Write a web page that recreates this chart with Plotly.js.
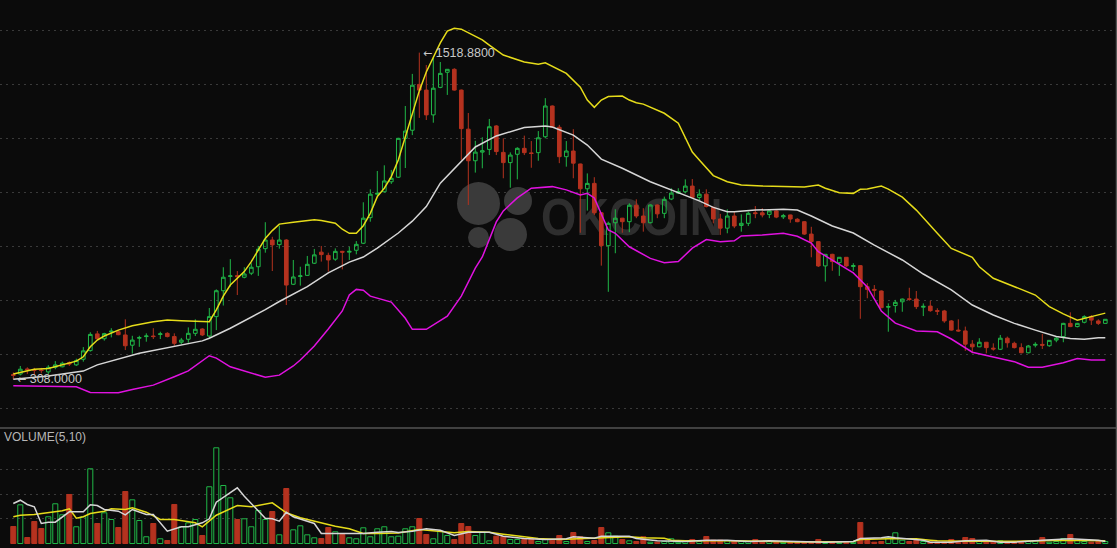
<!DOCTYPE html>
<html>
<head>
<meta charset="utf-8">
<script src="https://cdn.plot.ly/plotly-3.0.1.min.js"></script>
<style>
html,body{margin:0;padding:0;background:#0b0b0b;overflow:hidden;}
#wrap{position:relative;width:1117px;height:548px;}
#wm{position:absolute;left:0;top:0;width:1117px;height:548px;z-index:0;}
#chart{position:absolute;left:0;top:0;width:1117px;height:548px;z-index:1;}
.dot{position:absolute;border-radius:50%;background:#3a3a3a;}
#wmtext{position:absolute;left:541px;top:192px;font-family:"Liberation Sans",Arial,sans-serif;font-weight:bold;font-size:51px;line-height:51px;color:#2e2e2e;transform:scaleX(0.89);transform-origin:left top;white-space:nowrap;}
</style>
</head>
<body>
<div id="wrap">
  <div id="wm">
    <div class="dot" style="left:457px;top:182px;width:43px;height:43px;"></div>
    <div class="dot" style="left:504px;top:187px;width:28px;height:28px;"></div>
    <div class="dot" style="left:468px;top:227px;width:21px;height:21px;"></div>
    <div class="dot" style="left:494px;top:218px;width:33px;height:33px;"></div>
    <div id="wmtext">OKCOIN</div>
  </div>
  <div id="chart"></div>
</div>
<script>
// ---- candle data (index = trading period) ----
const openP = [325,327,346,343,342,335,352,354,369,361,
382,414,476,458,483,484,472,434,460,466,
468,474,478,466,445,456,478,494,468,540,
636,689,692,686,701,725,792,824,807,824,
660,689,693,738,779,767,753,782,779,786,
812,907,994,1003,1040,1057,1201,1231,1401,1380,
1288,1390,1446,1457,1380,1235,1118,1150,1160,1247,
1149,1111,1142,1164,1147,1148,1207,1321,1242,1133,
1154,1106,1014,1034,925,803,888,905,892,953,
913,888,954,923,976,998,1003,1024,982,994,
945,902,868,913,878,886,925,925,919,932,
910,917,901,892,846,818,728,771,740,760,
726,729,651,641,635,575,581,595,606,605,
575,579,562,561,524,490,487,438,428,445,
423,419,460,441,425,406,434,437,432,453,
466,515,503,519,540,524,515];
const highP = [333,357,352,350,350,360,375,373,374,384,
427,482,487,480,497,490,530,469,469,478,
497,484,482,478,461,500,530,497,572,641,
723,753,709,723,738,802,890,836,877,827,
750,725,765,791,802,777,793,784,799,820,
964,1012,1080,1101,1084,1203,1321,1440,1518.88,1473,
1500,1484,1458,1461,1382,1295,1192,1205,1273,1250,
1201,1149,1168,1211,1191,1228,1350,1323,1251,1191,
1235,1107,1071,1057,927,892,938,906,960,975,
942,956,956,985,1016,1016,1049,1050,1012,1012,
948,921,938,929,919,929,950,942,934,936,
921,918,905,894,873,820,772,773,761,761,
738,731,664,657,637,589,602,607,647,635,
589,599,571,565,527,530,503,453,460,446,
441,472,466,447,441,435,445,476,453,466,
517,556,517,545,546,530,531];
const lowP = [308,322,327,324,330,327,345,352,357,357,
373,410,453,451,463,471,416,403,428,447,
457,457,463,432,437,443,468,468,460,490,
581,651,620,682,694,691,777,709,792,583,
657,655,691,735,744,707,747,715,750,771,
809,892,985,1000,1032,1054,1091,1213,1277,1269,
1259,1387,1362,1378,1121,954,1074,1090,1139,1139,
1053,1018,1049,1139,1092,1118,1201,1240,1109,1096,
1053,851,933,917,729,632,775,851,853,905,
855,886,905,905,972,995,997,979,972,945,
886,843,849,868,855,876,905,908,905,905,
902,888,890,843,760,724,670,710,691,723,
710,532,608,614,571,484,555,558,599,568,
542,558,546,517,488,484,413,404,427,404,
414,416,425,422,404,404,426,420,428,445,
445,501,500,515,509,509,514];
const closeP = [322,345,343,341,340,352,361,367,364,377,
413,474,458,477,486,473,432,453,462,468,
466,476,466,441,453,478,493,472,540,636,
686,691,688,698,723,790,824,806,824,657,
687,691,734,769,770,750,782,779,782,808,
905,994,997,1043,1053,1201,1228,1398,1380,1288,
1387,1442,1457,1380,1237,1118,1150,1155,1244,1152,
1111,1139,1164,1148,1145,1203,1321,1242,1133,1154,
1109,1014,1034,925,803,886,905,892,953,913,
888,954,921,975,998,1004,1024,982,994,948,
902,868,913,876,886,923,922,917,932,909,
914,902,892,846,818,728,771,744,760,728,
729,651,641,638,573,577,593,605,604,577,
578,562,560,524,490,487,438,428,445,425,
420,460,443,425,406,431,437,434,452,460,
515,503,515,540,527,515,530];
const volume = [3470,7890,1220,4490,3060,5450,8100,5850,10000,3410,
5450,15240,4080,6260,4900,3260,10610,8910,4690,1370,
4080,960,610,7960,3410,4220,4900,1630,11570,19520,
11830,9320,4900,5040,3410,6730,4900,6530,1770,11220,
2790,3610,1770,1160,1020,3260,2390,1840,1160,960,
3200,1370,3000,3410,1370,1490,3000,3410,5100,1840,
960,2510,1630,820,4080,3470,1630,2310,550,1490,
1370,820,820,820,820,410,820,670,1630,410,
2240,1370,410,610,3260,2180,1490,820,550,410,
1370,270,270,410,960,270,410,820,410,1430,
670,670,550,550,410,410,820,410,410,410,
270,270,270,270,270,820,270,270,270,270,
270,4290,610,270,410,1160,2180,670,410,610,
410,270,270,270,820,270,1220,1020,410,410,
270,550,270,270,410,410,550,1220,270,410,
1020,1840,670,410,270,410,410];

// ---- Bollinger bands (period index, price) ----
const upperIdx = [0,3,5,8,9,10,11,12,13,15,17,20,22,24,26,28,29,30,31,32,33,34,35,36,37,38,40,42,43,44,46,47,48,49,50,51,52,53,54,55,56,57,58,59,60,61,62,63,64,65,67,68,70,73,75,76,77,79,81,82,83,84,85,87,88,89,90,93,95,97,98,99,100,102,104,107,110,113,115,116,118,120,121,122,124,125,127,129,132,134,137,138,140,143,144,146,148,150,152,154,156];
const upperBand = [327,345,348,367,375,391,428,453,468,490,506,521,527,525,522,521,565,616,657,682,707,744,787,830,859,883,890,896,899,896,886,864,849,849,877,923,985,1016,1059,1121,1206,1288,1377,1447,1503,1555,1599,1609,1606,1592,1566,1547,1510,1484,1476,1481,1467,1442,1391,1343,1316,1343,1356,1358,1343,1333,1328,1294,1257,1150,1121,1091,1063,1040,1028,1024,1022,1021,1028,1016,999,997,1012,1013,1024,1013,983,935,849,793,760,725,682,649,641,620,577,550,527,540,553];
const midIdx = [0,5,10,12,18,23,27,28,31,36,38,42,45,48,50,52,55,57,58,59,61,64,66,69,71,73,76,77,80,82,84,87,91,94,98,100,102,103,106,110,112,114,117,120,123,127,130,134,137,140,143,146,149,151,153,155,156];
const midBand = [308,320,338,361,404,428,450,460,497,566,596,651,702,742,761,794,850,894,920,948,1035,1117,1169,1210,1226,1241,1247,1243,1213,1176,1124,1090,1040,1010,969,945,929,929,935,938,935,913,876,850,805,750,698,639,583,546,515,490,466,459,456,462,462];
const lowerIdx = [0,6,9,11,15,17,20,23,25,28,29,31,36,38,40,41,43,45,47,48,49,50,51,54,56,57,59,62,64,66,67,69,70,72,74,77,79,81,82,83,84,85,86,88,91,93,95,97,99,101,103,104,107,110,112,114,115,117,120,122,124,126,129,132,134,137,141,143,145,147,150,152,154,156];
const lowerBand = [284,280,280,259,258,270,286,317,339,395,386,354,315,323,357,379,431,494,561,620,641,638,616,594,534,493,493,542,616,720,761,891,932,980,1016,1022,1010,991,997,980,920,861,849,799,756,740,744,794,826,818,821,839,843,849,838,813,781,750,702,650,561,516,487,484,457,408,385,373,352,352,369,385,379,379];

// ---- volume moving averages ----
const volMa5Idx = [0,1,2,3,4,5,6,8,10,11,12,13,15,16,17,19,20,22,24,25,27,28,29,31,32,33,35,36,37,38,39,40,42,43,44,47,50,52,54,55,57,59,61,63,65,68,70,73,76,79,80,83,84,88,89,92,95,96,99,102,105,108,112,116,120,121,124,125,126,129,130,131,134,136,139,141,143,147,150,151,155,156];
const volMa5 = [8160,8830,7960,7490,4080,4350,4350,6470,6470,7890,7750,6940,6590,5850,6940,5920,5920,2510,3410,3410,4220,5040,8430,10470,11360,9650,6790,5160,5040,4550,6390,5450,4550,4080,2040,2040,2040,2310,2450,2240,2510,3000,2710,1630,2310,2310,1490,1020,820,960,1370,1080,1490,1490,1020,550,550,410,670,670,410,550,410,270,410,1020,1160,1370,1160,820,670,270,270,550,670,270,270,670,820,960,670,410];
const volMa10Idx = [0,1,3,5,7,8,9,10,11,13,14,16,17,19,21,23,25,26,27,29,32,34,37,39,41,43,46,48,50,52,55,58,61,63,65,68,70,72,75,78,80,84,88,90,93,94,96,103,108,112,120,121,125,129,131,132,136,143,150,154,156];
const volMa10 = [5450,5770,5920,6260,6670,7080,5160,5450,6120,6590,7080,6940,7280,6390,4900,4900,4550,4220,3410,5770,7750,7490,8300,6260,5240,4550,3530,3000,2040,2040,2140,2860,2450,2180,2450,2310,1900,1490,1020,820,960,1220,1370,1160,1080,670,550,550,410,310,410,820,960,960,670,550,470,470,670,670,550];

const priceTicks = [200,400,600,800,1000,1200,1400,1600];
const volTicks = [5000,10000,15000];
const highLabel = '1518.8800';
const lowLabel = '308.0000';
const volLabel = 'VOLUME(5,10)';

// ---- styling ----
const GREEN = '#20b848';
const RED = '#b5321f';
const YELLOW = '#e6dc1a';
const WHITE = '#d6d6d6';
const MAGENTA = '#e012e0';
const GRID = '#3a3a3a';
const ARROW = '<span style="font-family:DejaVu Sans;font-size:11px">\u2190</span> ';

const idx = openP.map((_, i) => i);
const isUp = openP.map((o, i) => closeP[i] >= o);

const traces = [
  {
    type: 'bar', x: idx, y: volume, xaxis: 'x', yaxis: 'y2',
    marker: {
      color: isUp.map(u => u ? 'rgba(0,0,0,0)' : RED),
      line: {color: isUp.map(u => u ? GREEN : RED), width: 1}
    },
    hoverinfo: 'skip'
  },
  {
    type: 'scatter', mode: 'lines', x: volMa10Idx, y: volMa10, xaxis: 'x', yaxis: 'y2',
    line: {color: YELLOW, width: 1.5}, hoverinfo: 'skip'
  },
  {
    type: 'scatter', mode: 'lines', x: volMa5Idx, y: volMa5, xaxis: 'x', yaxis: 'y2',
    line: {color: WHITE, width: 1.5}, hoverinfo: 'skip'
  },
  {
    type: 'candlestick', x: idx, open: openP, high: highP, low: lowP, close: closeP,
    xaxis: 'x', yaxis: 'y',
    increasing: {line: {color: GREEN, width: 1}, fillcolor: 'rgba(0,0,0,0)'},
    decreasing: {line: {color: RED, width: 1}, fillcolor: RED},
    whiskerwidth: 0, hoverinfo: 'skip'
  },
  {
    type: 'scatter', mode: 'lines', x: lowerIdx, y: lowerBand, xaxis: 'x', yaxis: 'y',
    line: {color: MAGENTA, width: 1.5}, hoverinfo: 'skip'
  },
  {
    type: 'scatter', mode: 'lines', x: midIdx, y: midBand, xaxis: 'x', yaxis: 'y',
    line: {color: WHITE, width: 1.5}, hoverinfo: 'skip'
  },
  {
    type: 'scatter', mode: 'lines', x: upperIdx, y: upperBand, xaxis: 'x', yaxis: 'y',
    line: {color: YELLOW, width: 1.5}, hoverinfo: 'skip'
  }
];

const layout = {
  width: 1117, height: 548,
  margin: {l: 0, r: 0, t: 0, b: 0, pad: 0},
  paper_bgcolor: 'rgba(0,0,0,0)',
  plot_bgcolor: 'rgba(0,0,0,0)',
  showlegend: false,
  hovermode: false,
  bargap: 0.28,
  boxgap: 0.25,
  xaxis: {
    range: [-1.9, 157.67], showgrid: false, zeroline: false, showticklabels: false,
    ticks: '', showline: false, rangeslider: {visible: false}, fixedrange: true, anchor: 'y2'
  },
  yaxis: {
    domain: [120/548, 1], range: [127, 1714], tickvals: priceTicks,
    showgrid: true, gridcolor: GRID, griddash: '2px,4px', gridwidth: 1,
    zeroline: false, showticklabels: false, ticks: '', showline: false, fixedrange: true
  },
  yaxis2: {
    domain: [0, 120/548], range: [-918, 23562], tickvals: volTicks,
    showgrid: true, gridcolor: GRID, griddash: '2px,4px', gridwidth: 1,
    zeroline: false, showticklabels: false, ticks: '', showline: false, fixedrange: true
  },
  shapes: [
    {type: 'line', xref: 'paper', yref: 'paper', x0: 0, x1: 1, y0: 120/548, y1: 120/548,
     line: {color: '#555555', width: 1.5}},
    {type: 'line', xref: 'paper', yref: 'paper', x0: 0.99955, x1: 0.99955, y0: 0, y1: 1,
     line: {color: '#555555', width: 1.5}}
  ],
  annotations: [
    {x: 58, y: 1518.88, xref: 'x', yref: 'y', text: ARROW + highLabel, showarrow: false,
     xanchor: 'left', yanchor: 'middle', xshift: 2,
     font: {family: 'Liberation Sans, Arial, sans-serif', size: 12.5, color: '#c8c8c8'}},
    {x: 0, y: 308, xref: 'x', yref: 'y', text: ARROW + lowLabel, showarrow: false,
     xanchor: 'left', yanchor: 'middle', xshift: 2,
     font: {family: 'Liberation Sans, Arial, sans-serif', size: 12.5, color: '#c8c8c8'}},
    {x: 0, y: 111/548, xref: 'paper', yref: 'paper', text: volLabel, showarrow: false,
     xanchor: 'left', yanchor: 'middle', xshift: 2,
     font: {family: 'Liberation Sans, Arial, sans-serif', size: 12, color: '#b8b8b8'}}
  ]
};

Plotly.newPlot('chart', traces, layout, {displayModeBar: false, staticPlot: true});
</script>
</body>
</html>
